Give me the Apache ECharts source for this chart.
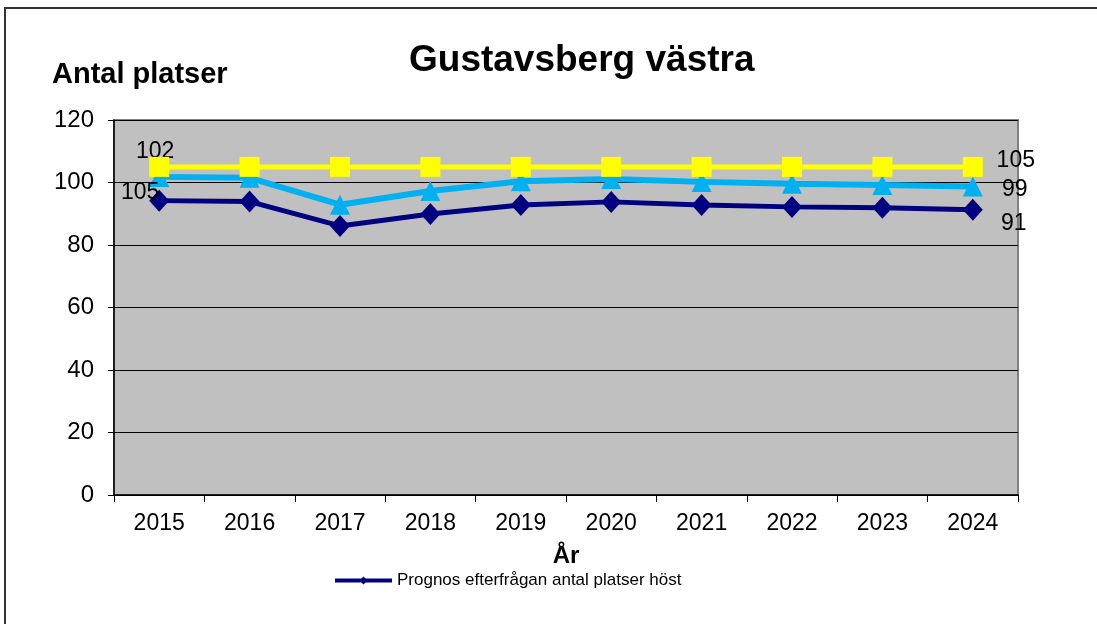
<!DOCTYPE html>
<html>
<head>
<meta charset="utf-8">
<script src="https://cdn.jsdelivr.net/npm/echarts@6/dist/echarts.min.js"></script>
<style>
  html, body { margin: 0; padding: 0; background: #fff; }
  #chart { width: 1097px; height: 624px; }
</style>
</head>
<body>
<div id="chart"></div>
<script>
// kategorier (år)
var years = ['2015', '2016', '2017', '2018', '2019', '2020', '2021', '2022', '2023', '2024'];

// prognos efterfrågan (mörkblå)
var demandAutumn = [94.2, 93.9, 86.1, 89.9, 92.8, 93.8, 92.8, 92.2, 91.9, 91.3];
// ljusblå serie
var demandSpring = [101.8, 101.5, 92.9, 97.3, 100.4, 101.1, 100.2, 99.6, 99.2, 98.7];
// kapacitet (gul)
var capacity = [105, 105, 105, 105, 105, 105, 105, 105, 105, 105];

var yTicks = { min: 0, max: 120, interval: 20 };

var FONT = 'Liberation Sans, Arial, sans-serif';

var chart = echarts.init(document.getElementById('chart'));

// etiketter bara på första och sista punkten
function withLabels(values, spec) {
	return values.map(function(v, i){
		var s = spec[i];
		if (!s) {
			return { value: v, label: { show: false } };
		}
		return {
			value: v,
			label: { show: true, offset: s, position: 'inside' }
		};
	});
}

var labelStyle = {
	color: '#000',
	fontFamily: FONT,
	fontSize: 23,
	formatter: function(p){ return Math.round(p.value); }
};

var option = {
	animation: false,
	backgroundColor: '#fff',
	title: [
		{
			text: 'Gustavsberg västra',
			left: 404, top: 37,
			textStyle: { fontFamily: FONT, fontSize: 37, fontWeight: 'bold', color: '#000' }
		},
		{
			text: 'Antal platser',
			left: 47, top: 55,
			textStyle: { fontFamily: FONT, fontSize: 29, fontWeight: 'bold', color: '#000' }
		}
	],
	legend: {
		data: ['Prognos efterfrågan antal platser höst'],
		left: 333, top: 572,
		padding: 0,
		itemWidth: 57, itemHeight: 10,
		itemGap: 3,
		lineStyle: { width: 4 },
		textStyle: { fontFamily: FONT, fontSize: 17, color: '#000' }
	},
	grid: {
		left: 114, right: 79, top: 120, bottom: 129,
		show: true,
		backgroundColor: '#C0C0C0',
		borderColor: '#808080',
		borderWidth: 2
	},
	xAxis: {
		type: 'category',
		data: years,
		boundaryGap: true,
		name: 'År',
		nameLocation: 'middle',
		nameGap: 49,
		nameTextStyle: { fontFamily: FONT, fontSize: 24, fontWeight: 'bold', color: '#000' },
		axisLine: { lineStyle: { color: '#000', width: 1.5 } },
		axisTick: { show: true, length: 7, lineStyle: { color: '#000' } },
		axisLabel: { fontFamily: FONT, fontSize: 23, color: '#000', margin: 17 }
	},
	yAxis: {
		type: 'value',
		min: yTicks.min, max: yTicks.max, interval: yTicks.interval,
		axisLine: { show: true, lineStyle: { color: '#000', width: 1.5 } },
		axisTick: { show: true, length: 6, lineStyle: { color: '#000' } },
		axisLabel: { fontFamily: FONT, fontSize: 24, color: '#000', margin: 20 },
		splitLine: { lineStyle: { color: '#000', width: 1 } }
	},
	series: [
		{
			name: 'Kapacitet',
			type: 'line',
			data: withLabels(capacity, { 0: [-19, 26], 9: [43, -6] }),
			symbol: 'rect',
			symbolSize: 20,
			lineStyle: { color: '#FFFF00', width: 5 },
			itemStyle: { color: '#FFFF00' },
			label: labelStyle,
			z: 3
		},
		{
			name: 'Prognos efterfrågan antal platser vår',
			type: 'line',
			data: withLabels(demandSpring, { 0: [-4, -25], 9: [42, 3] }),
			symbol: 'triangle',
			symbolSize: 20,
			lineStyle: { color: '#00B0F0', width: 6 },
			itemStyle: { color: '#00B0F0' },
			label: labelStyle,
			z: 2
		},
		{
			name: 'Prognos efterfrågan antal platser höst',
			type: 'line',
			data: withLabels(demandAutumn, { 9: [41, 14] }),
			symbol: 'diamond',
			symbolSize: [20, 22],
			lineStyle: { color: '#000080', width: 5 },
			itemStyle: { color: '#000080' },
			label: labelStyle,
			z: 1
		}
	],
	graphic: [
		{
			type: 'polyline',
			shape: { points: [[5, 624], [5, 8], [1097, 8]] },
			style: { stroke: '#333', lineWidth: 2, fill: null },
			silent: true
		}
	]
};

chart.setOption(option);
</script>
</body>
</html>
